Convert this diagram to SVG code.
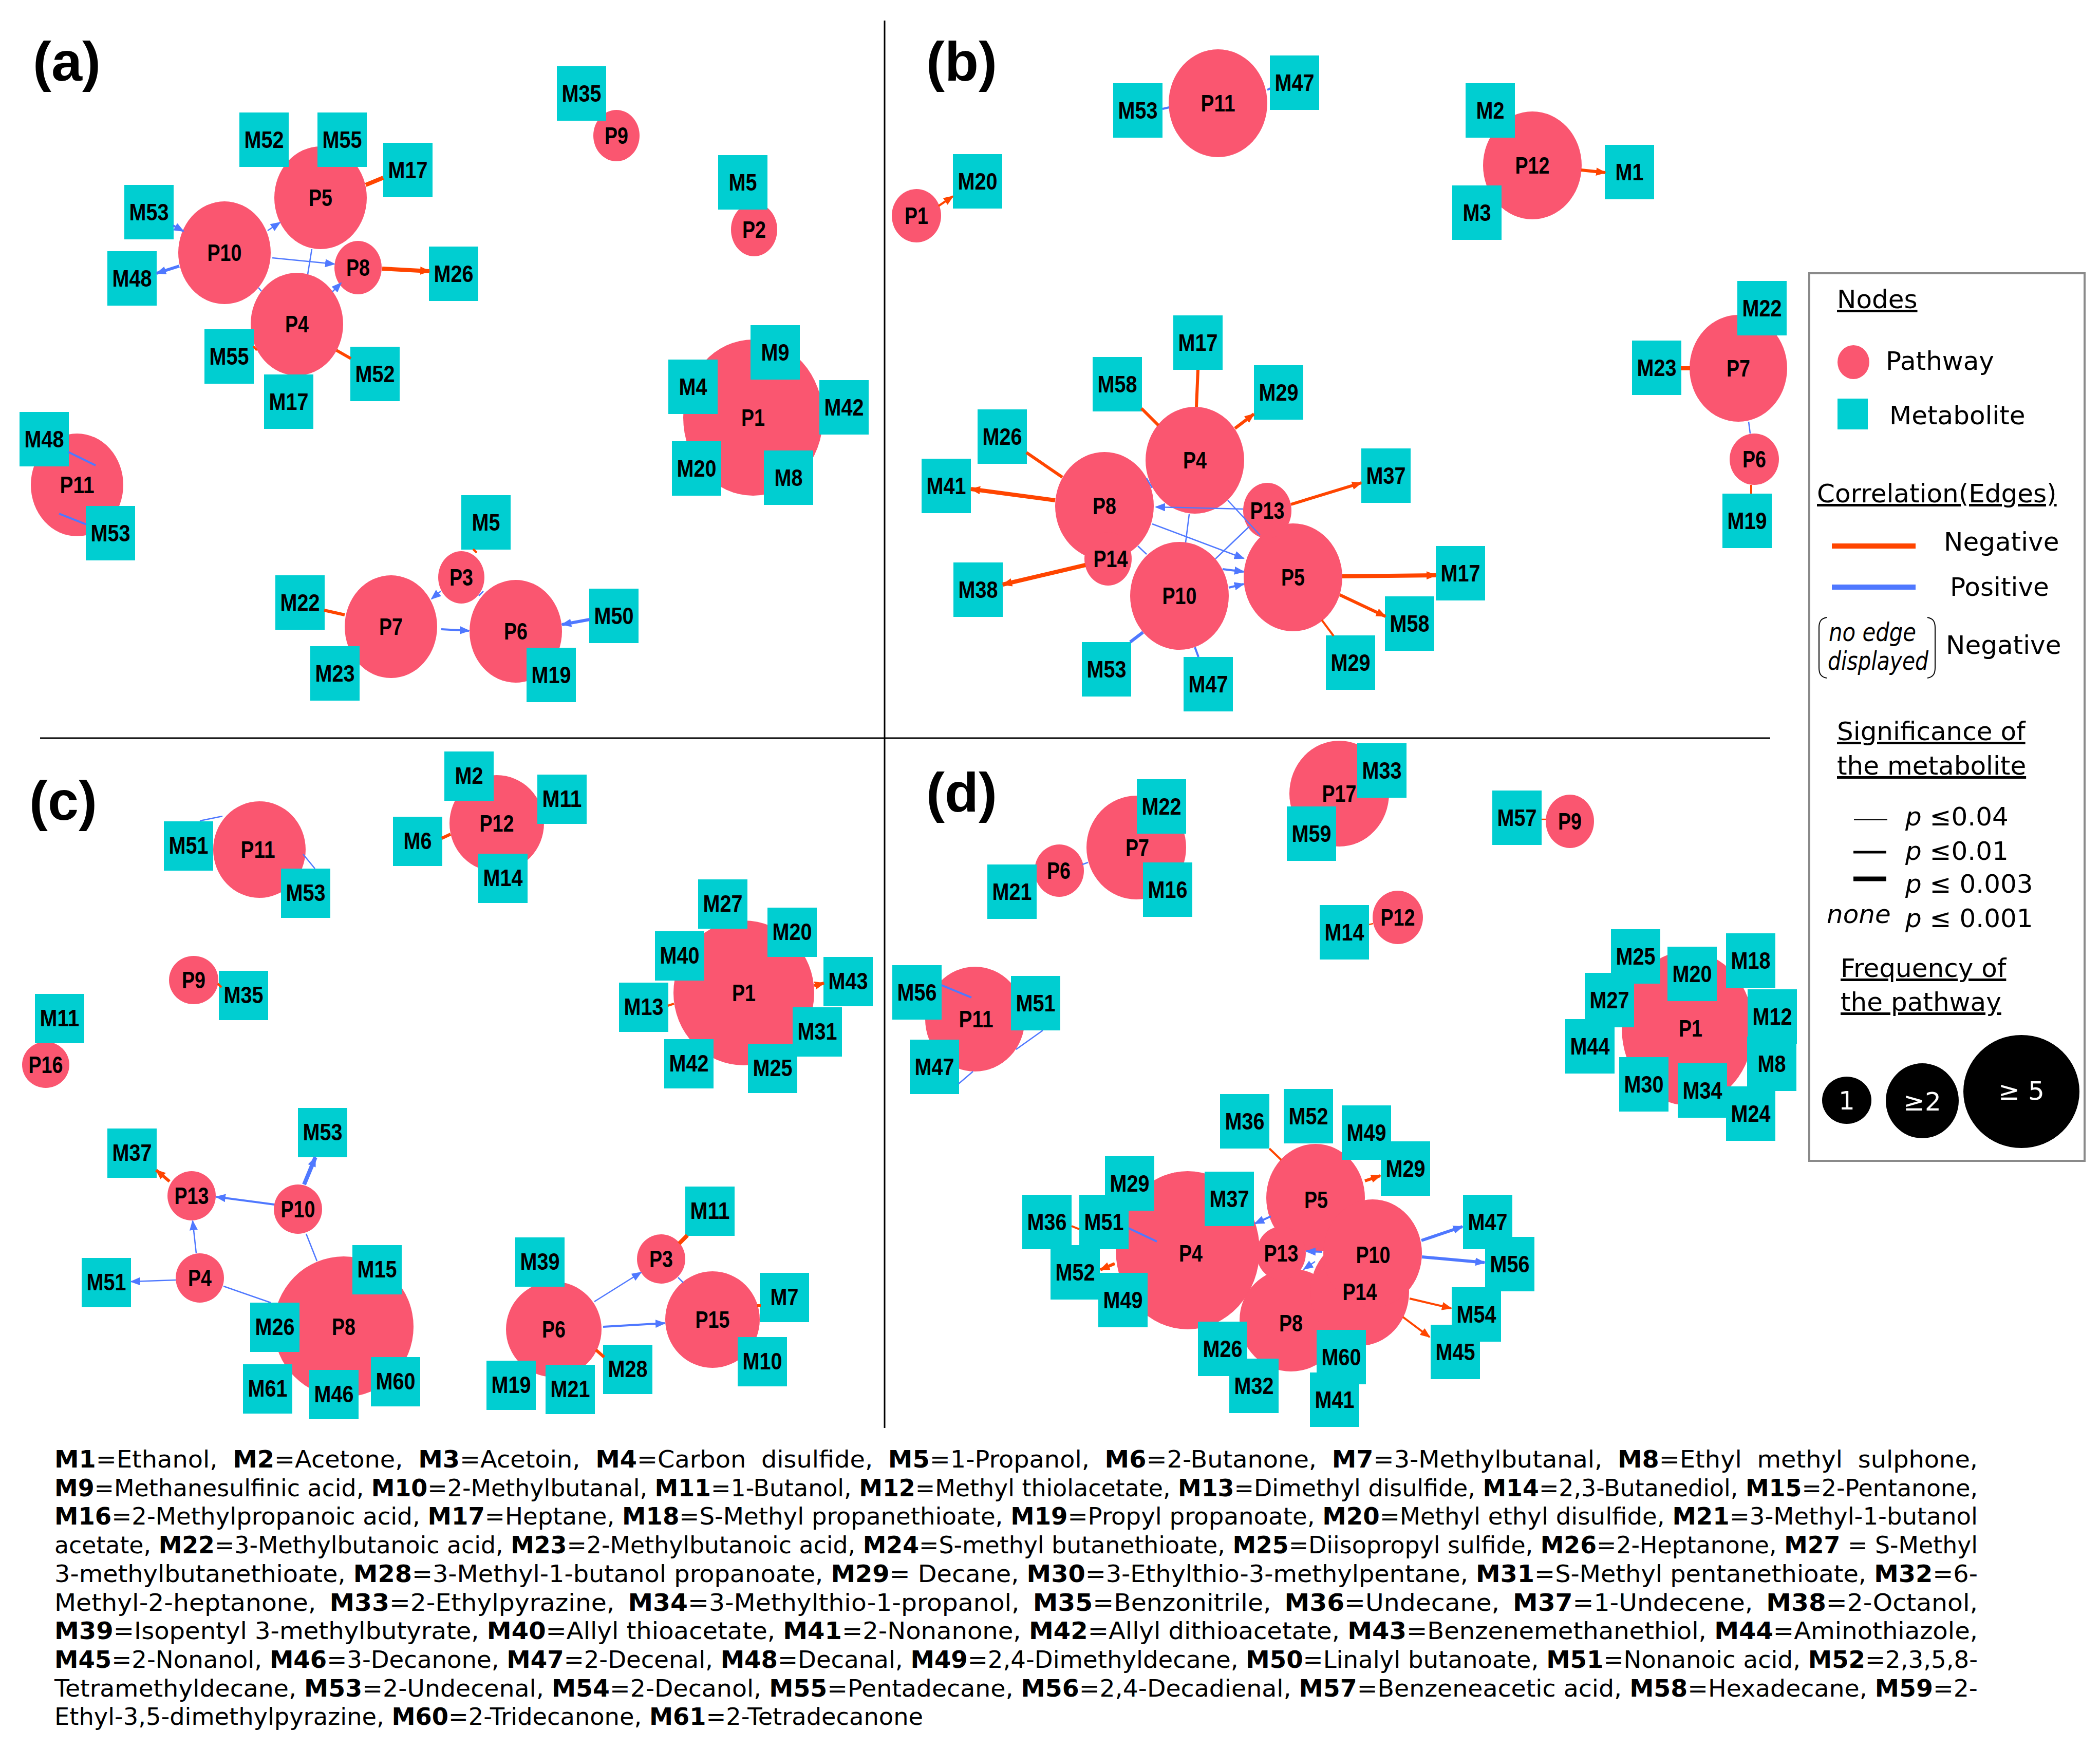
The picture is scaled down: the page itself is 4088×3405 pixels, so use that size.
<svg xmlns="http://www.w3.org/2000/svg" width="4088" height="3405" viewBox="0 0 4088 3405">
<style>
.pw{fill:#FA5670}
.mb{fill:#00CED1}
.lb{font-family:"Liberation Sans",Arial,sans-serif;font-weight:bold;font-size:46px;fill:#000;text-anchor:middle}
.neg{stroke:#FF4500;fill:none}
.pos{stroke:#4F78FF;fill:none}
.w1{stroke-width:2.5}.w2{stroke-width:4}.w3{stroke-width:6}.w4{stroke-width:8}
.an{marker-end:url(#an)}.ap{marker-end:url(#ap)}
.pl{font-family:"Liberation Sans",Arial,sans-serif;font-weight:bold;font-size:108px;fill:#000}
.lg{font-family:"DejaVu Sans",Verdana,sans-serif;font-size:50px;fill:#000}
.it{font-style:italic}
.cap{font-family:"DejaVu Sans",Verdana,sans-serif;font-size:46px;fill:#000}
.b{font-weight:bold}
</style>
<defs>
<marker id="an" viewBox="0 0 10 8" refX="9" refY="4" markerWidth="20" markerHeight="16" markerUnits="userSpaceOnUse" orient="auto"><path d="M0,0L10,4L0,8z" fill="#FF4500"/></marker>
<marker id="ap" viewBox="0 0 10 8" refX="9" refY="4" markerWidth="20" markerHeight="16" markerUnits="userSpaceOnUse" orient="auto"><path d="M0,0L10,4L0,8z" fill="#4F78FF"/></marker>
<clipPath id="clipP10"><path clip-rule="evenodd" d="M2500,2300H2800V2600H2500Z M2606,2490H2688V2540H2606Z"/></clipPath>
</defs>
<rect x="0" y="0" width="4088" height="3405" fill="#fff"/>

<g id="dividers" stroke="#000" stroke-width="3">
<line x1="1722" y1="40" x2="1722" y2="2780"/>
<line x1="78" y1="1437" x2="3446" y2="1437"/>
</g>

<g id="panel-labels">
<text class="pl" x="64" y="157">(a)</text>
<text class="pl" x="1803" y="157">(b)</text>
<text class="pl" x="57" y="1596">(c)</text>
<text class="pl" x="1803" y="1580">(d)</text>
</g>

<g id="nodes">
<!-- panel a pathways -->
<g id="a-P10"><ellipse class="pw" cx="437" cy="492" rx="90" ry="100"/><text class="lb" x="437" y="508" textLength="67" lengthAdjust="spacingAndGlyphs">P10</text></g>
<g id="a-P5"><ellipse class="pw" cx="624" cy="385" rx="90" ry="100"/><text class="lb" x="624" y="401" textLength="46" lengthAdjust="spacingAndGlyphs">P5</text></g>
<g id="a-P4"><ellipse class="pw" cx="578" cy="631" rx="90" ry="100"/><text class="lb" x="578" y="647" textLength="46" lengthAdjust="spacingAndGlyphs">P4</text></g>
<g id="a-P8"><ellipse class="pw" cx="697" cy="521" rx="46" ry="52"/><text class="lb" x="697" y="537" textLength="46" lengthAdjust="spacingAndGlyphs">P8</text></g>
<g id="a-P9"><ellipse class="pw" cx="1200" cy="264" rx="45" ry="50"/><text class="lb" x="1200" y="280" textLength="46" lengthAdjust="spacingAndGlyphs">P9</text></g>
<g id="a-P2"><ellipse class="pw" cx="1468" cy="447" rx="45" ry="52"/><text class="lb" x="1468" y="463" textLength="46" lengthAdjust="spacingAndGlyphs">P2</text></g>
<g id="a-P1"><ellipse class="pw" cx="1466" cy="813" rx="136" ry="152"/><text class="lb" x="1466" y="829" textLength="46" lengthAdjust="spacingAndGlyphs">P1</text></g>
<g id="a-P11"><ellipse class="pw" cx="150" cy="944" rx="90" ry="100"/><text class="lb" x="150" y="960" textLength="67" lengthAdjust="spacingAndGlyphs">P11</text></g>
<g id="a-P3"><ellipse class="pw" cx="898" cy="1124" rx="45" ry="51"/><text class="lb" x="898" y="1140" textLength="46" lengthAdjust="spacingAndGlyphs">P3</text></g>
<g id="a-P7"><ellipse class="pw" cx="761" cy="1220" rx="90" ry="100"/><text class="lb" x="761" y="1236" textLength="46" lengthAdjust="spacingAndGlyphs">P7</text></g>
<g id="a-P6"><ellipse class="pw" cx="1004" cy="1229" rx="90" ry="100"/><text class="lb" x="1004" y="1245" textLength="46" lengthAdjust="spacingAndGlyphs">P6</text></g>
<!-- panel a metabolites -->
<g id="a-M35"><rect class="mb" x="1084" y="129" width="96" height="106"/><text class="lb" x="1132" y="198" textLength="77" lengthAdjust="spacingAndGlyphs">M35</text></g>
<g id="a-M52-1"><rect class="mb" x="466" y="219" width="96" height="106"/><text class="lb" x="514" y="288" textLength="77" lengthAdjust="spacingAndGlyphs">M52</text></g>
<g id="a-M55-1"><rect class="mb" x="618" y="219" width="96" height="106"/><text class="lb" x="666" y="288" textLength="77" lengthAdjust="spacingAndGlyphs">M55</text></g>
<g id="a-M17-1"><rect class="mb" x="746" y="278" width="96" height="106"/><text class="lb" x="794" y="347" textLength="77" lengthAdjust="spacingAndGlyphs">M17</text></g>
<g id="a-M53-1"><rect class="mb" x="242" y="360" width="96" height="106"/><text class="lb" x="290" y="429" textLength="77" lengthAdjust="spacingAndGlyphs">M53</text></g>
<g id="a-M48-1"><rect class="mb" x="209" y="489" width="96" height="106"/><text class="lb" x="257" y="558" textLength="77" lengthAdjust="spacingAndGlyphs">M48</text></g>
<g id="a-M26"><rect class="mb" x="835" y="480" width="96" height="106"/><text class="lb" x="883" y="549" textLength="77" lengthAdjust="spacingAndGlyphs">M26</text></g>
<g id="a-M55-2"><rect class="mb" x="398" y="641" width="96" height="106"/><text class="lb" x="446" y="710" textLength="77" lengthAdjust="spacingAndGlyphs">M55</text></g>
<g id="a-M52-2"><rect class="mb" x="682" y="675" width="96" height="106"/><text class="lb" x="730" y="744" textLength="77" lengthAdjust="spacingAndGlyphs">M52</text></g>
<g id="a-M17-2"><rect class="mb" x="514" y="729" width="96" height="106"/><text class="lb" x="562" y="798" textLength="77" lengthAdjust="spacingAndGlyphs">M17</text></g>
<g id="a-M5-1"><rect class="mb" x="1398" y="302" width="96" height="106"/><text class="lb" x="1446" y="371" textLength="55" lengthAdjust="spacingAndGlyphs">M5</text></g>
<g id="a-M9"><rect class="mb" x="1461" y="633" width="96" height="106"/><text class="lb" x="1509" y="702" textLength="55" lengthAdjust="spacingAndGlyphs">M9</text></g>
<g id="a-M4"><rect class="mb" x="1301" y="700" width="96" height="106"/><text class="lb" x="1349" y="769" textLength="55" lengthAdjust="spacingAndGlyphs">M4</text></g>
<g id="a-M42"><rect class="mb" x="1595" y="740" width="96" height="106"/><text class="lb" x="1643" y="809" textLength="77" lengthAdjust="spacingAndGlyphs">M42</text></g>
<g id="a-M20"><rect class="mb" x="1308" y="859" width="96" height="106"/><text class="lb" x="1356" y="928" textLength="77" lengthAdjust="spacingAndGlyphs">M20</text></g>
<g id="a-M8"><rect class="mb" x="1487" y="877" width="96" height="106"/><text class="lb" x="1535" y="946" textLength="55" lengthAdjust="spacingAndGlyphs">M8</text></g>
<g id="a-M48-2"><rect class="mb" x="38" y="802" width="96" height="106"/><text class="lb" x="86" y="871" textLength="77" lengthAdjust="spacingAndGlyphs">M48</text></g>
<g id="a-M53-2"><rect class="mb" x="167" y="985" width="96" height="106"/><text class="lb" x="215" y="1054" textLength="77" lengthAdjust="spacingAndGlyphs">M53</text></g>
<g id="a-M5-2"><rect class="mb" x="898" y="964" width="96" height="106"/><text class="lb" x="946" y="1033" textLength="55" lengthAdjust="spacingAndGlyphs">M5</text></g>
<g id="a-M22"><rect class="mb" x="536" y="1120" width="96" height="106"/><text class="lb" x="584" y="1189" textLength="77" lengthAdjust="spacingAndGlyphs">M22</text></g>
<g id="a-M23"><rect class="mb" x="604" y="1258" width="96" height="106"/><text class="lb" x="652" y="1327" textLength="77" lengthAdjust="spacingAndGlyphs">M23</text></g>
<g id="a-M50"><rect class="mb" x="1147" y="1146" width="96" height="106"/><text class="lb" x="1195" y="1215" textLength="77" lengthAdjust="spacingAndGlyphs">M50</text></g>
<g id="a-M19"><rect class="mb" x="1025" y="1261" width="96" height="106"/><text class="lb" x="1073" y="1330" textLength="77" lengthAdjust="spacingAndGlyphs">M19</text></g>

<!-- panel b pathways -->
<g id="b-P11"><ellipse class="pw" cx="2371" cy="201" rx="96" ry="105"/><text class="lb" x="2371" y="217" textLength="67" lengthAdjust="spacingAndGlyphs">P11</text></g>
<g id="b-P12"><ellipse class="pw" cx="2983" cy="322" rx="96" ry="105"/><text class="lb" x="2983" y="338" textLength="67" lengthAdjust="spacingAndGlyphs">P12</text></g>
<g id="b-P1"><ellipse class="pw" cx="1784" cy="420" rx="48" ry="52"/><text class="lb" x="1784" y="436" textLength="46" lengthAdjust="spacingAndGlyphs">P1</text></g>
<g id="b-P7"><ellipse class="pw" cx="3384" cy="717" rx="95" ry="104"/><text class="lb" x="3384" y="733" textLength="46" lengthAdjust="spacingAndGlyphs">P7</text></g>
<g id="b-P6"><ellipse class="pw" cx="3415" cy="894" rx="48" ry="50"/><text class="lb" x="3415" y="910" textLength="46" lengthAdjust="spacingAndGlyphs">P6</text></g>
<g id="b-P4"><ellipse class="pw" cx="2326" cy="896" rx="96" ry="104"/><text class="lb" x="2326" y="912" textLength="46" lengthAdjust="spacingAndGlyphs">P4</text></g>
<g id="b-P8"><ellipse class="pw" cx="2150" cy="985" rx="96" ry="105"/><text class="lb" x="2150" y="1001" textLength="46" lengthAdjust="spacingAndGlyphs">P8</text></g>
<g id="b-P14"><ellipse class="pw" cx="2157" cy="1088" rx="46" ry="52"/><text class="lb" x="2162" y="1104" textLength="67" lengthAdjust="spacingAndGlyphs">P14</text></g>
<g id="b-P10"><ellipse class="pw" cx="2296" cy="1160" rx="96" ry="105"/><text class="lb" x="2296" y="1176" textLength="67" lengthAdjust="spacingAndGlyphs">P10</text></g>
<g id="b-P5"><ellipse class="pw" cx="2517" cy="1124" rx="96" ry="105"/><text class="lb" x="2517" y="1140" textLength="46" lengthAdjust="spacingAndGlyphs">P5</text></g>
<g id="b-P13"><ellipse class="pw" cx="2467" cy="994" rx="47" ry="54"/><text class="lb" x="2467" y="1010" textLength="67" lengthAdjust="spacingAndGlyphs">P13</text></g>
<!-- panel b metabolites -->
<g id="b-M53-1"><rect class="mb" x="2167" y="162" width="96" height="106"/><text class="lb" x="2215" y="231" textLength="77" lengthAdjust="spacingAndGlyphs">M53</text></g>
<g id="b-M47-1"><rect class="mb" x="2472" y="108" width="96" height="106"/><text class="lb" x="2520" y="177" textLength="77" lengthAdjust="spacingAndGlyphs">M47</text></g>
<g id="b-M20"><rect class="mb" x="1855" y="300" width="96" height="106"/><text class="lb" x="1903" y="369" textLength="77" lengthAdjust="spacingAndGlyphs">M20</text></g>
<g id="b-M2"><rect class="mb" x="2853" y="162" width="96" height="106"/><text class="lb" x="2901" y="231" textLength="55" lengthAdjust="spacingAndGlyphs">M2</text></g>
<g id="b-M3"><rect class="mb" x="2827" y="361" width="96" height="106"/><text class="lb" x="2875" y="430" textLength="55" lengthAdjust="spacingAndGlyphs">M3</text></g>
<g id="b-M1"><rect class="mb" x="3124" y="282" width="96" height="106"/><text class="lb" x="3172" y="351" textLength="55" lengthAdjust="spacingAndGlyphs">M1</text></g>
<g id="b-M22"><rect class="mb" x="3382" y="547" width="96" height="106"/><text class="lb" x="3430" y="616" textLength="77" lengthAdjust="spacingAndGlyphs">M22</text></g>
<g id="b-M23"><rect class="mb" x="3177" y="663" width="96" height="106"/><text class="lb" x="3225" y="732" textLength="77" lengthAdjust="spacingAndGlyphs">M23</text></g>
<g id="b-M19"><rect class="mb" x="3353" y="961" width="96" height="106"/><text class="lb" x="3401" y="1030" textLength="77" lengthAdjust="spacingAndGlyphs">M19</text></g>
<g id="b-M17-1"><rect class="mb" x="2284" y="614" width="96" height="106"/><text class="lb" x="2332" y="683" textLength="77" lengthAdjust="spacingAndGlyphs">M17</text></g>
<g id="b-M58-1"><rect class="mb" x="2127" y="695" width="96" height="106"/><text class="lb" x="2175" y="764" textLength="77" lengthAdjust="spacingAndGlyphs">M58</text></g>
<g id="b-M29-1"><rect class="mb" x="2441" y="711" width="96" height="106"/><text class="lb" x="2489" y="780" textLength="77" lengthAdjust="spacingAndGlyphs">M29</text></g>
<g id="b-M26"><rect class="mb" x="1903" y="797" width="96" height="106"/><text class="lb" x="1951" y="866" textLength="77" lengthAdjust="spacingAndGlyphs">M26</text></g>
<g id="b-M41"><rect class="mb" x="1794" y="893" width="96" height="106"/><text class="lb" x="1842" y="962" textLength="77" lengthAdjust="spacingAndGlyphs">M41</text></g>
<g id="b-M37"><rect class="mb" x="2650" y="873" width="96" height="106"/><text class="lb" x="2698" y="942" textLength="77" lengthAdjust="spacingAndGlyphs">M37</text></g>
<g id="b-M38"><rect class="mb" x="1856" y="1095" width="96" height="106"/><text class="lb" x="1904" y="1164" textLength="77" lengthAdjust="spacingAndGlyphs">M38</text></g>
<g id="b-M17-2"><rect class="mb" x="2795" y="1063" width="96" height="106"/><text class="lb" x="2843" y="1132" textLength="77" lengthAdjust="spacingAndGlyphs">M17</text></g>
<g id="b-M58-2"><rect class="mb" x="2696" y="1161" width="96" height="106"/><text class="lb" x="2744" y="1230" textLength="77" lengthAdjust="spacingAndGlyphs">M58</text></g>
<g id="b-M29-2"><rect class="mb" x="2581" y="1237" width="96" height="106"/><text class="lb" x="2629" y="1306" textLength="77" lengthAdjust="spacingAndGlyphs">M29</text></g>
<g id="b-M53-2"><rect class="mb" x="2106" y="1250" width="96" height="106"/><text class="lb" x="2154" y="1319" textLength="77" lengthAdjust="spacingAndGlyphs">M53</text></g>
<g id="b-M47-2"><rect class="mb" x="2304" y="1279" width="96" height="106"/><text class="lb" x="2352" y="1348" textLength="77" lengthAdjust="spacingAndGlyphs">M47</text></g>

<!-- panel c pathways -->
<g id="c-P11"><ellipse class="pw" cx="505" cy="1654" rx="90" ry="94"/><text class="lb" x="502" y="1670" textLength="67" lengthAdjust="spacingAndGlyphs">P11</text></g>
<g id="c-P12"><ellipse class="pw" cx="967" cy="1603" rx="92" ry="94"/><text class="lb" x="967" y="1619" textLength="67" lengthAdjust="spacingAndGlyphs">P12</text></g>
<g id="c-P9"><ellipse class="pw" cx="377" cy="1908" rx="48" ry="47"/><text class="lb" x="377" y="1924" textLength="46" lengthAdjust="spacingAndGlyphs">P9</text></g>
<g id="c-P16"><ellipse class="pw" cx="89" cy="2073" rx="46" ry="45"/><text class="lb" x="89" y="2089" textLength="67" lengthAdjust="spacingAndGlyphs">P16</text></g>
<g id="c-P1"><ellipse class="pw" cx="1448" cy="1933" rx="137" ry="141"/><text class="lb" x="1448" y="1949" textLength="46" lengthAdjust="spacingAndGlyphs">P1</text></g>
<g id="c-P13"><ellipse class="pw" cx="373" cy="2328" rx="47" ry="48"/><text class="lb" x="373" y="2344" textLength="67" lengthAdjust="spacingAndGlyphs">P13</text></g>
<g id="c-P10"><ellipse class="pw" cx="580" cy="2354" rx="47" ry="48"/><text class="lb" x="580" y="2370" textLength="67" lengthAdjust="spacingAndGlyphs">P10</text></g>
<g id="c-P4"><ellipse class="pw" cx="389" cy="2488" rx="47" ry="48"/><text class="lb" x="389" y="2504" textLength="46" lengthAdjust="spacingAndGlyphs">P4</text></g>
<g id="c-P8"><ellipse class="pw" cx="669" cy="2583" rx="136" ry="137"/><text class="lb" x="669" y="2599" textLength="46" lengthAdjust="spacingAndGlyphs">P8</text></g>
<g id="c-P6"><ellipse class="pw" cx="1078" cy="2588" rx="93" ry="93"/><text class="lb" x="1078" y="2604" textLength="46" lengthAdjust="spacingAndGlyphs">P6</text></g>
<g id="c-P3"><ellipse class="pw" cx="1287" cy="2451" rx="47" ry="48"/><text class="lb" x="1287" y="2467" textLength="46" lengthAdjust="spacingAndGlyphs">P3</text></g>
<g id="c-P15"><ellipse class="pw" cx="1387" cy="2569" rx="92" ry="94"/><text class="lb" x="1387" y="2585" textLength="67" lengthAdjust="spacingAndGlyphs">P15</text></g>
<!-- panel c metabolites -->
<g id="c-M51-1"><rect class="mb" x="319" y="1599" width="96" height="96"/><text class="lb" x="367" y="1662" textLength="77" lengthAdjust="spacingAndGlyphs">M51</text></g>
<g id="c-M53-1"><rect class="mb" x="547" y="1691" width="96" height="96"/><text class="lb" x="595" y="1754" textLength="77" lengthAdjust="spacingAndGlyphs">M53</text></g>
<g id="c-M2"><rect class="mb" x="865" y="1463" width="96" height="96"/><text class="lb" x="913" y="1526" textLength="55" lengthAdjust="spacingAndGlyphs">M2</text></g>
<g id="c-M11-1"><rect class="mb" x="1046" y="1508" width="96" height="96"/><text class="lb" x="1094" y="1571" textLength="77" lengthAdjust="spacingAndGlyphs">M11</text></g>
<g id="c-M6"><rect class="mb" x="765" y="1590" width="96" height="96"/><text class="lb" x="813" y="1653" textLength="55" lengthAdjust="spacingAndGlyphs">M6</text></g>
<g id="c-M14"><rect class="mb" x="931" y="1662" width="96" height="96"/><text class="lb" x="979" y="1725" textLength="77" lengthAdjust="spacingAndGlyphs">M14</text></g>
<g id="c-M35"><rect class="mb" x="426" y="1890" width="96" height="96"/><text class="lb" x="474" y="1953" textLength="77" lengthAdjust="spacingAndGlyphs">M35</text></g>
<g id="c-M11-2"><rect class="mb" x="68" y="1935" width="96" height="96"/><text class="lb" x="116" y="1998" textLength="77" lengthAdjust="spacingAndGlyphs">M11</text></g>
<g id="c-M27"><rect class="mb" x="1359" y="1712" width="96" height="96"/><text class="lb" x="1407" y="1775" textLength="77" lengthAdjust="spacingAndGlyphs">M27</text></g>
<g id="c-M20"><rect class="mb" x="1494" y="1767" width="96" height="96"/><text class="lb" x="1542" y="1830" textLength="77" lengthAdjust="spacingAndGlyphs">M20</text></g>
<g id="c-M40"><rect class="mb" x="1275" y="1813" width="96" height="96"/><text class="lb" x="1323" y="1876" textLength="77" lengthAdjust="spacingAndGlyphs">M40</text></g>
<g id="c-M43"><rect class="mb" x="1603" y="1863" width="96" height="96"/><text class="lb" x="1651" y="1926" textLength="77" lengthAdjust="spacingAndGlyphs">M43</text></g>
<g id="c-M13"><rect class="mb" x="1205" y="1913" width="96" height="96"/><text class="lb" x="1253" y="1976" textLength="77" lengthAdjust="spacingAndGlyphs">M13</text></g>
<g id="c-M31"><rect class="mb" x="1543" y="1961" width="96" height="96"/><text class="lb" x="1591" y="2024" textLength="77" lengthAdjust="spacingAndGlyphs">M31</text></g>
<g id="c-M42"><rect class="mb" x="1293" y="2023" width="96" height="96"/><text class="lb" x="1341" y="2086" textLength="77" lengthAdjust="spacingAndGlyphs">M42</text></g>
<g id="c-M25"><rect class="mb" x="1456" y="2032" width="96" height="96"/><text class="lb" x="1504" y="2095" textLength="77" lengthAdjust="spacingAndGlyphs">M25</text></g>
<g id="c-M53-2"><rect class="mb" x="580" y="2157" width="96" height="96"/><text class="lb" x="628" y="2220" textLength="77" lengthAdjust="spacingAndGlyphs">M53</text></g>
<g id="c-M37"><rect class="mb" x="209" y="2197" width="96" height="96"/><text class="lb" x="257" y="2260" textLength="77" lengthAdjust="spacingAndGlyphs">M37</text></g>
<g id="c-M51-2"><rect class="mb" x="159" y="2449" width="96" height="96"/><text class="lb" x="207" y="2512" textLength="77" lengthAdjust="spacingAndGlyphs">M51</text></g>
<g id="c-M15"><rect class="mb" x="686" y="2424" width="96" height="96"/><text class="lb" x="734" y="2487" textLength="77" lengthAdjust="spacingAndGlyphs">M15</text></g>
<g id="c-M26"><rect class="mb" x="487" y="2536" width="96" height="96"/><text class="lb" x="535" y="2599" textLength="77" lengthAdjust="spacingAndGlyphs">M26</text></g>
<g id="c-M61"><rect class="mb" x="473" y="2656" width="96" height="96"/><text class="lb" x="521" y="2719" textLength="77" lengthAdjust="spacingAndGlyphs">M61</text></g>
<g id="c-M46"><rect class="mb" x="602" y="2667" width="96" height="96"/><text class="lb" x="650" y="2730" textLength="77" lengthAdjust="spacingAndGlyphs">M46</text></g>
<g id="c-M60"><rect class="mb" x="722" y="2642" width="96" height="96"/><text class="lb" x="770" y="2705" textLength="77" lengthAdjust="spacingAndGlyphs">M60</text></g>
<g id="c-M39"><rect class="mb" x="1003" y="2409" width="96" height="96"/><text class="lb" x="1051" y="2472" textLength="77" lengthAdjust="spacingAndGlyphs">M39</text></g>
<g id="c-M11-3"><rect class="mb" x="1334" y="2310" width="96" height="96"/><text class="lb" x="1382" y="2373" textLength="77" lengthAdjust="spacingAndGlyphs">M11</text></g>
<g id="c-M7"><rect class="mb" x="1479" y="2478" width="96" height="96"/><text class="lb" x="1527" y="2541" textLength="55" lengthAdjust="spacingAndGlyphs">M7</text></g>
<g id="c-M28"><rect class="mb" x="1174" y="2618" width="96" height="96"/><text class="lb" x="1222" y="2681" textLength="77" lengthAdjust="spacingAndGlyphs">M28</text></g>
<g id="c-M10"><rect class="mb" x="1436" y="2603" width="96" height="96"/><text class="lb" x="1484" y="2666" textLength="77" lengthAdjust="spacingAndGlyphs">M10</text></g>
<g id="c-M19"><rect class="mb" x="947" y="2649" width="96" height="96"/><text class="lb" x="995" y="2712" textLength="77" lengthAdjust="spacingAndGlyphs">M19</text></g>
<g id="c-M21"><rect class="mb" x="1062" y="2657" width="96" height="96"/><text class="lb" x="1110" y="2720" textLength="77" lengthAdjust="spacingAndGlyphs">M21</text></g>

<!-- panel d pathways -->
<g id="d-P7"><ellipse class="pw" cx="2212" cy="1650" rx="97" ry="101"/><text class="lb" x="2214" y="1666" textLength="46" lengthAdjust="spacingAndGlyphs">P7</text></g>
<g id="d-P6"><ellipse class="pw" cx="2062" cy="1695" rx="48" ry="51"/><text class="lb" x="2061" y="1711" textLength="46" lengthAdjust="spacingAndGlyphs">P6</text></g>
<g id="d-P17"><ellipse class="pw" cx="2607" cy="1545" rx="97" ry="103"/><text class="lb" x="2607" y="1561" textLength="67" lengthAdjust="spacingAndGlyphs">P17</text></g>
<g id="d-P9"><ellipse class="pw" cx="3056" cy="1599" rx="47" ry="52"/><text class="lb" x="3056" y="1615" textLength="46" lengthAdjust="spacingAndGlyphs">P9</text></g>
<g id="d-P12"><ellipse class="pw" cx="2721" cy="1786" rx="49" ry="52"/><text class="lb" x="2721" y="1802" textLength="67" lengthAdjust="spacingAndGlyphs">P12</text></g>
<g id="d-P11"><ellipse class="pw" cx="1898" cy="1984" rx="97" ry="102"/><text class="lb" x="1900" y="2000" textLength="67" lengthAdjust="spacingAndGlyphs">P11</text></g>
<g id="d-P1"><ellipse class="pw" cx="3285" cy="2002" rx="128" ry="150"/><text class="lb" x="3291" y="2018" textLength="46" lengthAdjust="spacingAndGlyphs">P1</text></g>
<g id="d-P4"><ellipse class="pw" cx="2312" cy="2434" rx="140" ry="154"/><text class="lb" x="2318" y="2456" textLength="46" lengthAdjust="spacingAndGlyphs">P4</text></g>
<g id="d-P5"><ellipse class="pw" cx="2561" cy="2332" rx="96" ry="105"/><text class="lb" x="2562" y="2352" textLength="46" lengthAdjust="spacingAndGlyphs">P5</text></g>
<g id="d-P8"><ellipse class="pw" cx="2513" cy="2570" rx="100" ry="100"/><text class="lb" x="2513" y="2592" textLength="46" lengthAdjust="spacingAndGlyphs">P8</text></g>
<g id="d-P14"><ellipse class="pw" cx="2647" cy="2515" rx="96" ry="105"/><text class="lb" x="2647" y="2531" textLength="67" lengthAdjust="spacingAndGlyphs">P14</text></g>
<g id="d-P10"><ellipse class="pw" cx="2672" cy="2440" rx="96" ry="105" clip-path="url(#clipP10)"/><text class="lb" x="2673" y="2459" textLength="67" lengthAdjust="spacingAndGlyphs">P10</text></g>
<g id="d-P13"><ellipse class="pw" cx="2494" cy="2440" rx="48" ry="52"/><text class="lb" x="2494" y="2456" textLength="67" lengthAdjust="spacingAndGlyphs">P13</text></g>
<!-- panel d metabolites -->
<g id="d-M22"><rect class="mb" x="2213" y="1517" width="96" height="106"/><text class="lb" x="2261" y="1586" textLength="77" lengthAdjust="spacingAndGlyphs">M22</text></g>
<g id="d-M16"><rect class="mb" x="2225" y="1679" width="96" height="106"/><text class="lb" x="2273" y="1748" textLength="77" lengthAdjust="spacingAndGlyphs">M16</text></g>
<g id="d-M21"><rect class="mb" x="1922" y="1683" width="96" height="106"/><text class="lb" x="1970" y="1752" textLength="77" lengthAdjust="spacingAndGlyphs">M21</text></g>
<g id="d-M33"><rect class="mb" x="2642" y="1447" width="96" height="106"/><text class="lb" x="2690" y="1516" textLength="77" lengthAdjust="spacingAndGlyphs">M33</text></g>
<g id="d-M59"><rect class="mb" x="2505" y="1570" width="96" height="106"/><text class="lb" x="2553" y="1639" textLength="77" lengthAdjust="spacingAndGlyphs">M59</text></g>
<g id="d-M57"><rect class="mb" x="2905" y="1539" width="96" height="106"/><text class="lb" x="2953" y="1608" textLength="77" lengthAdjust="spacingAndGlyphs">M57</text></g>
<g id="d-M14"><rect class="mb" x="2569" y="1762" width="96" height="106"/><text class="lb" x="2617" y="1831" textLength="77" lengthAdjust="spacingAndGlyphs">M14</text></g>
<g id="d-M56-1"><rect class="mb" x="1737" y="1879" width="96" height="106"/><text class="lb" x="1785" y="1948" textLength="77" lengthAdjust="spacingAndGlyphs">M56</text></g>
<g id="d-M51-1"><rect class="mb" x="1968" y="1900" width="96" height="106"/><text class="lb" x="2016" y="1969" textLength="77" lengthAdjust="spacingAndGlyphs">M51</text></g>
<g id="d-M47-1"><rect class="mb" x="1771" y="2024" width="96" height="106"/><text class="lb" x="1819" y="2093" textLength="77" lengthAdjust="spacingAndGlyphs">M47</text></g>
<g id="d-M25"><rect class="mb" x="3136" y="1809" width="96" height="106"/><text class="lb" x="3184" y="1878" textLength="77" lengthAdjust="spacingAndGlyphs">M25</text></g>
<g id="d-M20"><rect class="mb" x="3246" y="1843" width="96" height="106"/><text class="lb" x="3294" y="1912" textLength="77" lengthAdjust="spacingAndGlyphs">M20</text></g>
<g id="d-M18"><rect class="mb" x="3360" y="1817" width="96" height="106"/><text class="lb" x="3408" y="1886" textLength="77" lengthAdjust="spacingAndGlyphs">M18</text></g>
<g id="d-M27"><rect class="mb" x="3085" y="1894" width="96" height="106"/><text class="lb" x="3133" y="1963" textLength="77" lengthAdjust="spacingAndGlyphs">M27</text></g>
<g id="d-M12"><rect class="mb" x="3402" y="1926" width="96" height="106"/><text class="lb" x="3450" y="1995" textLength="77" lengthAdjust="spacingAndGlyphs">M12</text></g>
<g id="d-M44"><rect class="mb" x="3047" y="1984" width="96" height="106"/><text class="lb" x="3095" y="2053" textLength="77" lengthAdjust="spacingAndGlyphs">M44</text></g>
<g id="d-M8"><rect class="mb" x="3401" y="2018" width="96" height="106"/><text class="lb" x="3449" y="2087" textLength="55" lengthAdjust="spacingAndGlyphs">M8</text></g>
<g id="d-M30"><rect class="mb" x="3152" y="2058" width="96" height="106"/><text class="lb" x="3200" y="2127" textLength="77" lengthAdjust="spacingAndGlyphs">M30</text></g>
<g id="d-M34"><rect class="mb" x="3266" y="2070" width="96" height="106"/><text class="lb" x="3314" y="2139" textLength="77" lengthAdjust="spacingAndGlyphs">M34</text></g>
<g id="d-M24"><rect class="mb" x="3360" y="2115" width="96" height="106"/><text class="lb" x="3408" y="2184" textLength="77" lengthAdjust="spacingAndGlyphs">M24</text></g>
<g id="d-M36-1"><rect class="mb" x="2375" y="2130" width="96" height="106"/><text class="lb" x="2423" y="2199" textLength="77" lengthAdjust="spacingAndGlyphs">M36</text></g>
<g id="d-M52-1"><rect class="mb" x="2499" y="2120" width="96" height="106"/><text class="lb" x="2547" y="2189" textLength="77" lengthAdjust="spacingAndGlyphs">M52</text></g>
<g id="d-M49-1"><rect class="mb" x="2612" y="2152" width="96" height="106"/><text class="lb" x="2660" y="2221" textLength="77" lengthAdjust="spacingAndGlyphs">M49</text></g>
<g id="d-M29-1"><rect class="mb" x="2688" y="2222" width="96" height="106"/><text class="lb" x="2736" y="2291" textLength="77" lengthAdjust="spacingAndGlyphs">M29</text></g>
<g id="d-M37"><rect class="mb" x="2345" y="2281" width="96" height="106"/><text class="lb" x="2393" y="2350" textLength="77" lengthAdjust="spacingAndGlyphs">M37</text></g>
<g id="d-M29-2"><rect class="mb" x="2151" y="2251" width="96" height="106"/><text class="lb" x="2199" y="2320" textLength="77" lengthAdjust="spacingAndGlyphs">M29</text></g>
<g id="d-M36-2"><rect class="mb" x="1990" y="2326" width="96" height="106"/><text class="lb" x="2038" y="2395" textLength="77" lengthAdjust="spacingAndGlyphs">M36</text></g>
<g id="d-M51-2"><rect class="mb" x="2101" y="2326" width="96" height="106"/><text class="lb" x="2149" y="2395" textLength="77" lengthAdjust="spacingAndGlyphs">M51</text></g>
<g id="d-M52-2"><rect class="mb" x="2045" y="2424" width="96" height="106"/><text class="lb" x="2093" y="2493" textLength="77" lengthAdjust="spacingAndGlyphs">M52</text></g>
<g id="d-M49-2"><rect class="mb" x="2138" y="2478" width="96" height="106"/><text class="lb" x="2186" y="2547" textLength="77" lengthAdjust="spacingAndGlyphs">M49</text></g>
<g id="d-M26"><rect class="mb" x="2332" y="2573" width="96" height="106"/><text class="lb" x="2380" y="2642" textLength="77" lengthAdjust="spacingAndGlyphs">M26</text></g>
<g id="d-M32"><rect class="mb" x="2393" y="2645" width="96" height="106"/><text class="lb" x="2441" y="2714" textLength="77" lengthAdjust="spacingAndGlyphs">M32</text></g>
<g id="d-M60"><rect class="mb" x="2563" y="2589" width="96" height="106"/><text class="lb" x="2611" y="2658" textLength="77" lengthAdjust="spacingAndGlyphs">M60</text></g>
<g id="d-M41"><rect class="mb" x="2550" y="2672" width="96" height="106"/><text class="lb" x="2598" y="2741" textLength="77" lengthAdjust="spacingAndGlyphs">M41</text></g>
<g id="d-M47-2"><rect class="mb" x="2848" y="2326" width="96" height="106"/><text class="lb" x="2896" y="2395" textLength="77" lengthAdjust="spacingAndGlyphs">M47</text></g>
<g id="d-M56-2"><rect class="mb" x="2891" y="2408" width="96" height="106"/><text class="lb" x="2939" y="2477" textLength="77" lengthAdjust="spacingAndGlyphs">M56</text></g>
<g id="d-M54"><rect class="mb" x="2826" y="2506" width="96" height="106"/><text class="lb" x="2874" y="2575" textLength="77" lengthAdjust="spacingAndGlyphs">M54</text></g>
<g id="d-M45"><rect class="mb" x="2785" y="2579" width="96" height="106"/><text class="lb" x="2833" y="2648" textLength="77" lengthAdjust="spacingAndGlyphs">M45</text></g>
</g>

<g id="connectors">
<!-- a -->
<line class="neg w4" x1="712" y1="360" x2="746" y2="346"/>
<line class="pos w2 ap" x1="337" y1="439" x2="357" y2="450"/>
<line class="pos w1 ap" x1="521" y1="449" x2="545" y2="433"/>
<line class="pos w3 ap" x1="349" y1="518" x2="305" y2="532"/>
<line class="pos w1 ap" x1="530" y1="502" x2="651" y2="514"/>
<line class="pos w1" x1="607" y1="485" x2="599" y2="534"/>
<line class="pos w1" x1="503" y1="560" x2="509" y2="567"/>
<line class="pos w1 ap" x1="647" y1="568" x2="664" y2="551"/>
<line class="neg w4 an" x1="744" y1="523" x2="836" y2="528"/>
<line class="neg w2" x1="493" y1="674" x2="500" y2="682"/>
<line class="neg w3" x1="655" y1="682" x2="683" y2="698"/>
<line class="pos w2" x1="133" y1="880" x2="186" y2="906"/>
<line class="pos w2" x1="115" y1="1000" x2="168" y2="1021"/>
<line class="neg w2" x1="921" y1="1069" x2="928" y2="1076"/>
<line class="pos w1 ap" x1="858" y1="1151" x2="840" y2="1166"/>
<line class="pos w1" x1="932" y1="1160" x2="941" y2="1151"/>
<line class="pos w2 ap" x1="859" y1="1225" x2="913" y2="1228"/>
<line class="neg w3" x1="631" y1="1188" x2="671" y2="1197"/>
<line class="pos w3 ap" x1="1148" y1="1206" x2="1094" y2="1216"/>
<!-- b -->
<line class="pos w2" x1="2263" y1="212" x2="2276" y2="209"/>
<line class="pos w2" x1="2467" y1="175" x2="2473" y2="172"/>
<line class="neg w2 an" x1="1827" y1="401" x2="1855" y2="382"/>
<line class="neg w3 an" x1="3078" y1="331" x2="3125" y2="336"/>
<line class="neg w4" x1="3272" y1="717" x2="3290" y2="717"/>
<line class="pos w1" x1="3404" y1="821" x2="3407" y2="844"/>
<line class="neg w2" x1="3409" y1="944" x2="3409" y2="961"/>
<line class="neg w3" x1="2332" y1="720" x2="2329" y2="792"/>
<line class="neg w3" x1="2222" y1="795" x2="2255" y2="828"/>
<line class="neg w3 an" x1="2404" y1="834" x2="2441" y2="806"/>
<line class="neg w3" x1="1998" y1="881" x2="2068" y2="929"/>
<line class="neg w4 an" x1="2054" y1="974" x2="1890" y2="952"/>
<line class="neg w4 an" x1="2113" y1="1100" x2="1952" y2="1138"/>
<line class="neg w3 an" x1="2513" y1="982" x2="2650" y2="940"/>
<line class="neg w4 an" x1="2613" y1="1122" x2="2795" y2="1120"/>
<line class="neg w3 an" x1="2608" y1="1158" x2="2697" y2="1200"/>
<line class="neg w2" x1="2573" y1="1207" x2="2596" y2="1238"/>
<line class="pos w3" x1="2225" y1="1231" x2="2200" y2="1250"/>
<line class="pos w2" x1="2326" y1="1260" x2="2333" y2="1279"/>
<line class="pos w1 ap" x1="2420" y1="991" x2="2250" y2="987"/>
<line class="pos w1" x1="2232" y1="931" x2="2243" y2="950"/>
<line class="pos w1" x1="2315" y1="1001" x2="2308" y2="1056"/>
<line class="pos w1" x1="2390" y1="974" x2="2453" y2="1042"/>
<line class="pos w1 ap" x1="2243" y1="1020" x2="2421" y2="1087"/>
<line class="pos w1" x1="2366" y1="1088" x2="2432" y2="1025"/>
<line class="pos w1" x1="2215" y1="1063" x2="2232" y2="1079"/>
<line class="pos w2 ap" x1="2380" y1="1108" x2="2421" y2="1113"/>
<line class="pos w2 ap" x1="2392" y1="1144" x2="2421" y2="1137"/>
<!-- c -->
<line class="pos w1" x1="389" y1="1598" x2="433" y2="1589"/>
<line class="pos w1" x1="590" y1="1663" x2="613" y2="1691"/>
<line class="neg w3" x1="860" y1="1632" x2="877" y2="1624"/>
<line class="neg w2" x1="424" y1="1915" x2="431" y2="1922"/>
<line class="neg w3 an" x1="1585" y1="1919" x2="1604" y2="1914"/>
<line class="neg w2" x1="1300" y1="1958" x2="1312" y2="1954"/>
<line class="neg w3 an" x1="330" y1="2300" x2="304" y2="2278"/>
<line class="pos w2 ap" x1="534" y1="2345" x2="421" y2="2330"/>
<line class="pos w4 ap" x1="592" y1="2306" x2="614" y2="2253"/>
<line class="pos w1 ap" x1="382" y1="2440" x2="375" y2="2377"/>
<line class="pos w1 ap" x1="342" y1="2492" x2="255" y2="2495"/>
<line class="pos w1" x1="435" y1="2504" x2="527" y2="2536"/>
<line class="pos w1" x1="596" y1="2402" x2="617" y2="2455"/>
<line class="pos w1 ap" x1="1157" y1="2534" x2="1248" y2="2477"/>
<line class="pos w2 ap" x1="1174" y1="2583" x2="1294" y2="2576"/>
<line class="pos w1" x1="1320" y1="2487" x2="1330" y2="2497"/>
<line class="neg w4" x1="1322" y1="2421" x2="1338" y2="2405"/>
<line class="neg w3" x1="1474" y1="2542" x2="1481" y2="2542"/>
<line class="neg w3" x1="1160" y1="2628" x2="1176" y2="2642"/>
<!-- d -->
<line class="pos w1" x1="2107" y1="1683" x2="2118" y2="1679"/>
<line class="neg w1" x1="3001" y1="1595" x2="3009" y2="1595"/>
<line class="neg w1" x1="2665" y1="1800" x2="2673" y2="1798"/>
<line class="pos w2" x1="1833" y1="1918" x2="1891" y2="1942"/>
<line class="pos w1" x1="1978" y1="2043" x2="2030" y2="2006"/>
<line class="pos w1" x1="1866" y1="2110" x2="1894" y2="2086"/>
<line class="neg w2" x1="2471" y1="2236" x2="2494" y2="2258"/>
<line class="neg w3 an" x1="2657" y1="2299" x2="2687" y2="2289"/>
<line class="neg w2" x1="2086" y1="2387" x2="2101" y2="2393"/>
<line class="pos w2" x1="2197" y1="2391" x2="2252" y2="2417"/>
<line class="neg w3 an" x1="2170" y1="2460" x2="2142" y2="2472"/>
<line class="pos w2 ap" x1="2474" y1="2368" x2="2443" y2="2382"/>
<line class="pos w2 ap" x1="2574" y1="2437" x2="2543" y2="2436"/>
<line class="pos w1 ap" x1="2560" y1="2456" x2="2538" y2="2471"/>
<line class="pos w3 ap" x1="2767" y1="2415" x2="2847" y2="2388"/>
<line class="pos w3 ap" x1="2768" y1="2447" x2="2890" y2="2458"/>
<line class="neg w2 an" x1="2744" y1="2528" x2="2825" y2="2547"/>
<line class="neg w2 an" x1="2731" y1="2564" x2="2783" y2="2603"/>
</g>

<g id="legend">
<rect x="3522" y="532" width="536" height="1728" fill="#fff" stroke="#8a8a8a" stroke-width="4"/>
<text class="lg" x="3576" y="600" text-decoration="underline">Nodes</text>
<ellipse cx="3608" cy="705" rx="31" ry="33" fill="#FA5670"/>
<text class="lg" x="3671" y="720">Pathway</text>
<rect x="3577" y="776" width="59" height="60" fill="#00CED1"/>
<text class="lg" x="3678" y="826">Metabolite</text>
<text class="lg" x="3537" y="978" text-decoration="underline">Correlation(Edges)</text>
<line x1="3566" y1="1063" x2="3729" y2="1063" stroke="#FF4500" stroke-width="10"/>
<text class="lg" x="3784" y="1072">Negative</text>
<line x1="3566" y1="1143" x2="3729" y2="1143" stroke="#4F78FF" stroke-width="10"/>
<text class="lg" x="3796" y="1160">Positive</text>
<path d="M3556,1202C3545,1204 3541,1210 3541,1222L3541,1300C3541,1312 3545,1318 3556,1320" fill="none" stroke="#000" stroke-width="2"/>
<path d="M3752,1202C3763,1204 3767,1210 3767,1222L3767,1300C3767,1312 3763,1318 3752,1320" fill="none" stroke="#000" stroke-width="2"/>
<text class="lg it" x="3560" y="1248" font-size="43" textLength="170" lengthAdjust="spacingAndGlyphs">no edge</text>
<text class="lg it" x="3558" y="1304" font-size="42" textLength="196" lengthAdjust="spacingAndGlyphs">displayed</text>
<text class="lg" x="3788" y="1273">Negative</text>
<text class="lg" x="3576" y="1441" text-decoration="underline">Significance of</text>
<text class="lg" x="3576" y="1508" text-decoration="underline">the metabolite</text>
<line x1="3609" y1="1596" x2="3674" y2="1596" stroke="#000" stroke-width="2"/>
<line x1="3608" y1="1659" x2="3672" y2="1659" stroke="#000" stroke-width="5"/>
<line x1="3608" y1="1711" x2="3672" y2="1711" stroke="#000" stroke-width="9"/>
<text class="lg it" x="3556" y="1797" font-size="46">none</text>
<text class="lg" x="3709" y="1607"><tspan class="it">p</tspan> ≤0.04</text>
<text class="lg" x="3709" y="1674"><tspan class="it">p</tspan> ≤0.01</text>
<text class="lg" x="3709" y="1738"><tspan class="it">p</tspan> ≤ 0.003</text>
<text class="lg" x="3709" y="1805"><tspan class="it">p</tspan> ≤ 0.001</text>
<text class="lg" x="3583" y="1902" text-decoration="underline">Frequency of</text>
<text class="lg" x="3583" y="1968" text-decoration="underline">the pathway</text>
<ellipse cx="3595" cy="2142" rx="48" ry="46" fill="#000"/>
<text class="lg" x="3595" y="2160" text-anchor="middle" style="fill:#fff">1</text>
<ellipse cx="3742" cy="2143" rx="71" ry="73" fill="#000"/>
<text class="lg" x="3742" y="2162" text-anchor="middle" style="fill:#fff">≥2</text>
<ellipse cx="3935" cy="2125" rx="113" ry="110" fill="#000"/>
<text class="lg" x="3935" y="2141" text-anchor="middle" style="fill:#fff">≥ 5</text>
</g>

<g id="caption" class="cap">
<text x="106" y="2857" textLength="3744" lengthAdjust="spacingAndGlyphs" word-spacing="14"><tspan class="b">M1</tspan>=Ethanol, <tspan class="b">M2</tspan>=Acetone, <tspan class="b">M3</tspan>=Acetoin, <tspan class="b">M4</tspan>=Carbon disulfide, <tspan class="b">M5</tspan>=1-Propanol, <tspan class="b">M6</tspan>=2-Butanone, <tspan class="b">M7</tspan>=3-Methylbutanal, <tspan class="b">M8</tspan>=Ethyl methyl sulphone,</text>
<text x="106" y="2913" textLength="3744" lengthAdjust="spacingAndGlyphs"><tspan class="b">M9</tspan>=Methanesulfinic acid, <tspan class="b">M10</tspan>=2-Methylbutanal, <tspan class="b">M11</tspan>=1-Butanol, <tspan class="b">M12</tspan>=Methyl thiolacetate, <tspan class="b">M13</tspan>=Dimethyl disulfide, <tspan class="b">M14</tspan>=2,3-Butanediol, <tspan class="b">M15</tspan>=2-Pentanone,</text>
<text x="106" y="2968" textLength="3744" lengthAdjust="spacingAndGlyphs"><tspan class="b">M16</tspan>=2-Methylpropanoic acid, <tspan class="b">M17</tspan>=Heptane, <tspan class="b">M18</tspan>=S-Methyl propanethioate, <tspan class="b">M19</tspan>=Propyl propanoate, <tspan class="b">M20</tspan>=Methyl ethyl disulfide, <tspan class="b">M21</tspan>=3-Methyl-1-butanol</text>
<text x="106" y="3024" textLength="3744" lengthAdjust="spacingAndGlyphs">acetate, <tspan class="b">M22</tspan>=3-Methylbutanoic acid, <tspan class="b">M23</tspan>=2-Methylbutanoic acid, <tspan class="b">M24</tspan>=S-methyl butanethioate, <tspan class="b">M25</tspan>=Diisopropyl sulfide, <tspan class="b">M26</tspan>=2-Heptanone, <tspan class="b">M27</tspan> = S-Methyl</text>
<text x="106" y="3080" textLength="3744" lengthAdjust="spacingAndGlyphs">3-methylbutanethioate, <tspan class="b">M28</tspan>=3-Methyl-1-butanol propanoate, <tspan class="b">M29</tspan>= Decane, <tspan class="b">M30</tspan>=3-Ethylthio-3-methylpentane, <tspan class="b">M31</tspan>=S-Methyl pentanethioate, <tspan class="b">M32</tspan>=6-</text>
<text x="106" y="3136" textLength="3744" lengthAdjust="spacingAndGlyphs" word-spacing="10">Methyl-2-heptanone, <tspan class="b">M33</tspan>=2-Ethylpyrazine, <tspan class="b">M34</tspan>=3-Methylthio-1-propanol, <tspan class="b">M35</tspan>=Benzonitrile, <tspan class="b">M36</tspan>=Undecane, <tspan class="b">M37</tspan>=1-Undecene, <tspan class="b">M38</tspan>=2-Octanol,</text>
<text x="106" y="3191" textLength="3744" lengthAdjust="spacingAndGlyphs"><tspan class="b">M39</tspan>=Isopentyl 3-methylbutyrate, <tspan class="b">M40</tspan>=Allyl thioacetate, <tspan class="b">M41</tspan>=2-Nonanone, <tspan class="b">M42</tspan>=Allyl dithioacetate, <tspan class="b">M43</tspan>=Benzenemethanethiol, <tspan class="b">M44</tspan>=Aminothiazole,</text>
<text x="106" y="3247" textLength="3744" lengthAdjust="spacingAndGlyphs"><tspan class="b">M45</tspan>=2-Nonanol, <tspan class="b">M46</tspan>=3-Decanone, <tspan class="b">M47</tspan>=2-Decenal, <tspan class="b">M48</tspan>=Decanal, <tspan class="b">M49</tspan>=2,4-Dimethyldecane, <tspan class="b">M50</tspan>=Linalyl butanoate, <tspan class="b">M51</tspan>=Nonanoic acid, <tspan class="b">M52</tspan>=2,3,5,8-</text>
<text x="106" y="3303" textLength="3744" lengthAdjust="spacingAndGlyphs"><tspan>Tetramethyldecane, </tspan><tspan class="b">M53</tspan>=2-Undecenal, <tspan class="b">M54</tspan>=2-Decanol, <tspan class="b">M55</tspan>=Pentadecane, <tspan class="b">M56</tspan>=2,4-Decadienal, <tspan class="b">M57</tspan>=Benzeneacetic acid, <tspan class="b">M58</tspan>=Hexadecane, <tspan class="b">M59</tspan>=2-</text>
<text x="106" y="3358" textLength="1691" lengthAdjust="spacingAndGlyphs">Ethyl-3,5-dimethylpyrazine, <tspan class="b">M60</tspan>=2-Tridecanone, <tspan class="b">M61</tspan>=2-Tetradecanone</text>
</g>
</svg>
